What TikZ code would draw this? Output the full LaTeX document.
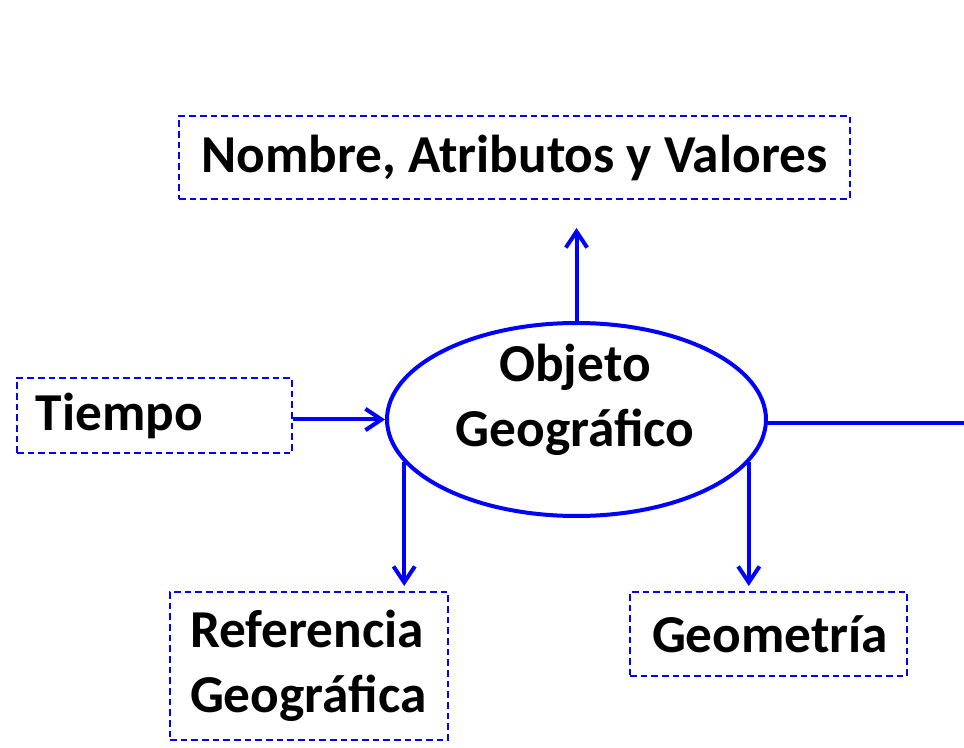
\documentclass[tikz,border=0pt]{standalone}
\usepackage{fontspec}
\setmainfont{Carlito}
\usepackage{tikz}
\usetikzlibrary{shapes.geometric,arrows.meta}

\tikzset{
	dashbox/.style={draw=blue, line width=1.5pt, dash pattern=on 5pt off 3pt, align=left, font=\fontsize{40}{49}\selectfont\bfseries},
	flecha/.style={draw=blue, line width=3pt, -{Straight Barb[length=12pt,width=16pt]}},
}

\begin{document}
\begin{tikzpicture}[x=0.75pt,y=0.75pt,yscale=-1]
	\useasboundingbox (0,0) rectangle (964,748);
	
	\node [ellipse, draw=blue, line width=3pt, minimum width=284.25pt, minimum height=144.75pt, inner sep=0pt] (obj) at (576.5,419.5) {};
	\node [align=center, inner sep=0pt, font=\fontsize{40}{49}\selectfont\bfseries] (objtxt) at (575,400) {Objeto\\Geográfico};
	
	\node [dashbox, align=center, minimum width=503.25pt, minimum height=62.25pt] (nom) at (514.5,157.5) {Nombre, Atributos y Valores};
	\node [dashbox, inner xsep=14.25pt, text width=177.75pt, minimum height=56.25pt] (tiempo) at (154.5,415.5) {Tiempo};
	\node [dashbox, inner xsep=15pt, text width=178.5pt, minimum height=111pt] (ref) at (309,666) {Referencia\\Geográfica};
	\node [dashbox, inner xsep=16.5pt, text width=174.75pt, minimum height=63pt] (geo) at (768.5,634) {Geometría};
	
	% connectors
	\draw [flecha, shorten >=21pt] (obj.north) -- (obj.north |- nom.south);
	\draw [flecha] (tiempo.east |- obj.west) -- (obj.west);
	\draw [flecha, shorten >=3.75pt] (obj.194) -- (obj.194 |- ref.north);
	\draw [flecha, shorten >=3.75pt] (obj.346) -- (obj.346 |- geo.north);
	
	\coordinate (rend) at (964,423);
	\draw [blue, line width=3pt] (obj.east |- rend) -- (rend);
	
\end{tikzpicture}
\end{document}
